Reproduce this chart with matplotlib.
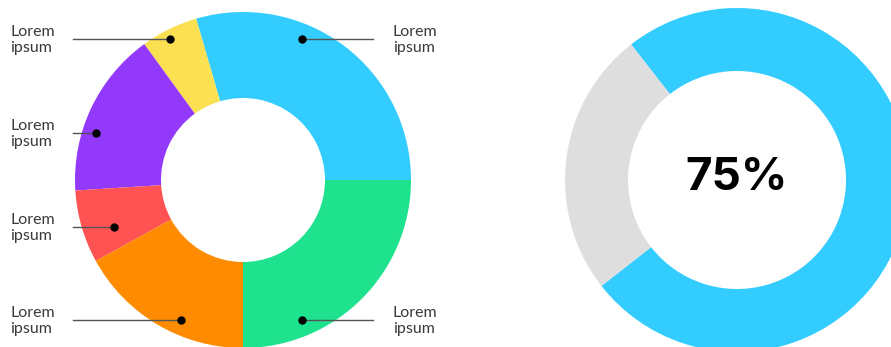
import numpy as np
import matplotlib.pyplot as plt

#---資料-----
labels = ["Lorem\nipsum"] * 6
values = [29.5, 5.5, 16, 7, 17, 25]          # blue, yellow, purple, red, orange, green
colors = ["#33CCFF", "#FBE052", "#9339FB", "#FF5353", "#FF8C00", "#1FE28E"]
progress = [75, 25]
progress_colors = ["#33CCFF", "#DEDEDE"]
progress_text = "75%"

#---版面 (pixel units, y up) -----
W, H = 891, 347
c1 = (243, H - 180)
R1, r1 = 168, 82
c2 = (737, H - 180)
R2, r2 = 172, 109

# which side / row each wedge label sits on, and where its dot sits on the ring
sides = ["R", "L", "L", "L", "L", "R"]
rows = [39, 39, 133, 227, 320, 320]
dot_r = [153, 159, 154, 137, 153, 152]

fig = plt.figure(figsize=(W / 100, H / 100), dpi=100)
ax = fig.add_axes([0, 0, 1, 1])

#---左邊圓環-----
ax.pie(values, colors=colors, startangle=0, counterclock=True,
       center=c1, radius=R1, frame=True,
       wedgeprops=dict(width=R1 - r1, linewidth=0))

for i in range(len(values)):
    y = H - rows[i]
    dy = y - c1[1]
    dx = np.sqrt(dot_r[i] ** 2 - dy ** 2)
    if sides[i] == "L":
        xd = c1[0] - dx
        ax.plot([73, xd], [y, y], color="#555555", lw=1, zorder=3)
        tx = 10
    else:
        xd = c1[0] + dx
        ax.plot([xd, 373], [y, y], color="#555555", lw=1, zorder=3)
        tx = 393
    ax.text(tx, y - 1, labels[i], ha="left", va="center", fontsize=11.5,
            family="Lato", fontweight="normal", color="#3a3a3a",
            linespacing=1.2)
    ax.plot(xd, y, "o", color="black", ms=5, zorder=4)

#---右邊圓環-----
ax.pie(progress, colors=progress_colors, startangle=218, counterclock=True,
       center=c2, radius=R2, frame=True,
       wedgeprops=dict(width=R2 - r2, linewidth=0))
ax.text(c2[0], c2[1] + 2, progress_text, ha="center", va="center",
        fontsize=33, fontweight="bold", family="Inter", color="black")

ax.set_xlim(0, W)
ax.set_ylim(0, H)
ax.set_aspect("equal")
ax.axis("off")
fig.savefig("out.png", dpi=100)
